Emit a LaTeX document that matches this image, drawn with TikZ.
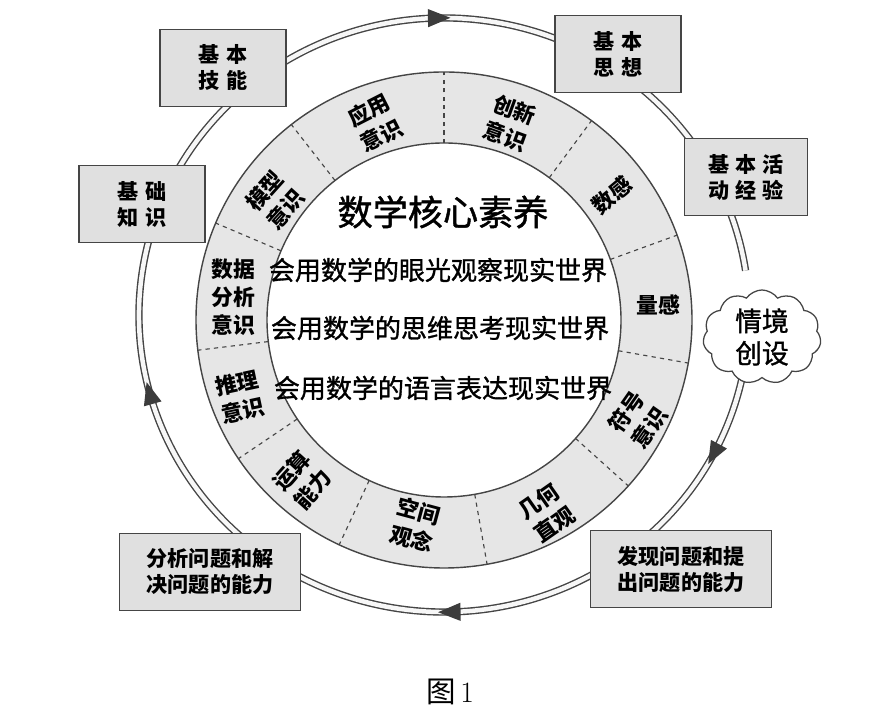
\documentclass[tikz,border=0pt]{standalone}
\usepackage{fontspec}
\newfontfamily\cjk{Noto Sans CJK SC}
\newfontfamily\cjkmid{Noto Sans CJK SC}[FakeBold=1.2]
\usetikzlibrary{shapes.symbols,decorations.markings}

\definecolor{edgegray}{HTML}{454545}
\definecolor{boxgray}{HTML}{E0E0E0}
\definecolor{ringgray}{HTML}{E6E6E6}
\definecolor{tipgray}{HTML}{3C3C3C}

\newcommand{\ringtip}{\fill[tipgray] (8pt,0) -- (-8pt,6.5pt) -- (-8pt,-6.5pt) -- cycle;}

\begin{document}
\begin{tikzpicture}[x=0.025cm, y=0.025cm,
    infobox/.style={draw=edgegray, fill=boxgray, line width=1.1pt, align=center,
        minimum width=3.15cm, minimum height=1.92cm,
        font=\cjk\bfseries\fontsize{15}{18.5}\selectfont},
    widebox/.style={infobox, minimum width=4.52cm},
    seglabel/.style={align=center, inner sep=0pt,
        font=\cjk\bfseries\fontsize{15.5}{20}\selectfont},
    coreline/.style={font=\cjkmid\fontsize{18.5}{22}\selectfont},
    divider/.style={dashed, edgegray, line width=0.8pt},
    ringline/.style={draw=edgegray, line width=1pt, double=white!94!gray, double distance=3.2pt}
]
\useasboundingbox (0,0) rectangle (879,721);
\coordinate (segc) at (444,401);
\coordinate (ringc) at (444,406);

% outer cycle
\draw[ringline, postaction={decorate}, decoration={markings,
        mark=at position 0.045 with {\ringtip},
        mark=at position 0.226 with {\ringtip},
        mark=at position 0.45 with {\ringtip},
        mark=at position 0.757 with {\ringtip}}]
    ([shift={(-12.5:305 and 297)}]ringc) arc[start angle=-12.5, end angle=-351.4, x radius=305, y radius=297];

% grey ring with the eleven parts
\fill[ringgray, even odd rule] (segc) circle[radius=248] (segc) circle[radius=177];
\draw[edgegray, line width=1pt] (segc) circle[radius=248];
\draw[edgegray, line width=1pt] (segc) circle[radius=177];
\foreach \a in {20,53.5,90,128,157,187,214,245,280,318,350}
    \draw[divider] ([shift={(\a:177)}]segc) -- ([shift={(\a:248)}]segc);

\node[seglabel, rotate=27] (yingyong) at (375,598) {应用\\意识};
\node[seglabel, rotate=-20] (chuangxin) at (510,598) {创新\\意识};
\node[seglabel, rotate=40] (shugan) at (612,526) {数感};
\node[seglabel] (lianggan) at (658,416) {量感};
\node[seglabel, rotate=55] (fuhao) at (638,301) {符号\\意识};
\node[seglabel, rotate=35] (jihe) at (547,208) {几何\\直观};
\node[seglabel, rotate=-15] (kongjian) at (415,196) {空间\\观念};
\node[seglabel, rotate=48] (yunsuan) at (302,241) {运算\\能力};
\node[seglabel, rotate=12] (tuili) at (240,324) {推理\\意识};
\node[seglabel] (shuju) at (233,424) {数据\\分析\\意识};
\node[seglabel, rotate=48] (moxing) at (275,521) {模型\\意识};

% centre
\node[font=\cjkmid\fontsize{25}{28}\selectfont] (core) at (443,509) {数学核心素养};
\node[coreline] (yanguang) at (438,451) {会用数学的眼光观察现实世界};
\node[coreline] (siwei) at (440,393) {会用数学的思维思考现实世界};
\node[coreline] (yuyan) at (443,333) {会用数学的语言表达现实世界};

% boxes on the cycle
\node[infobox] (jineng) at (223,653) {基\hspace{5pt}本\\技\hspace{5pt}能};
\node[infobox] (zhishi) at (142,517) {基\hspace{5pt}础\\知\hspace{5pt}识};
\node[infobox] (sixiang) at (618,667) {基\hspace{5pt}本\\思\hspace{5pt}想};
\node[infobox, minimum width=3.08cm] (jingyan) at (746,544) {基\hspace{4pt}本\hspace{4pt}活\\动\hspace{4pt}经\hspace{4pt}验};
\node[widebox] (fenxi) at (210,149) {分析问题和解\\决问题的能力};
\node[widebox] (faxian) at (681,152) {发现问题和提\\出问题的能力};
\node[cloud, cloud puffs=11, cloud puff arc=110, aspect=1.3, draw=edgegray, fill=white,
      line width=0.9pt, inner sep=0pt, minimum width=2.95cm, minimum height=2.35cm,
      align=center, font=\cjkmid\fontsize{19}{23}\selectfont] (qingjing) at (762,384) {情境\\创设};

\node[font=\fontsize{21}{24}\selectfont] (caption) at (450,29) {{\cjk 图}\,1};
\end{tikzpicture}
\end{document}
